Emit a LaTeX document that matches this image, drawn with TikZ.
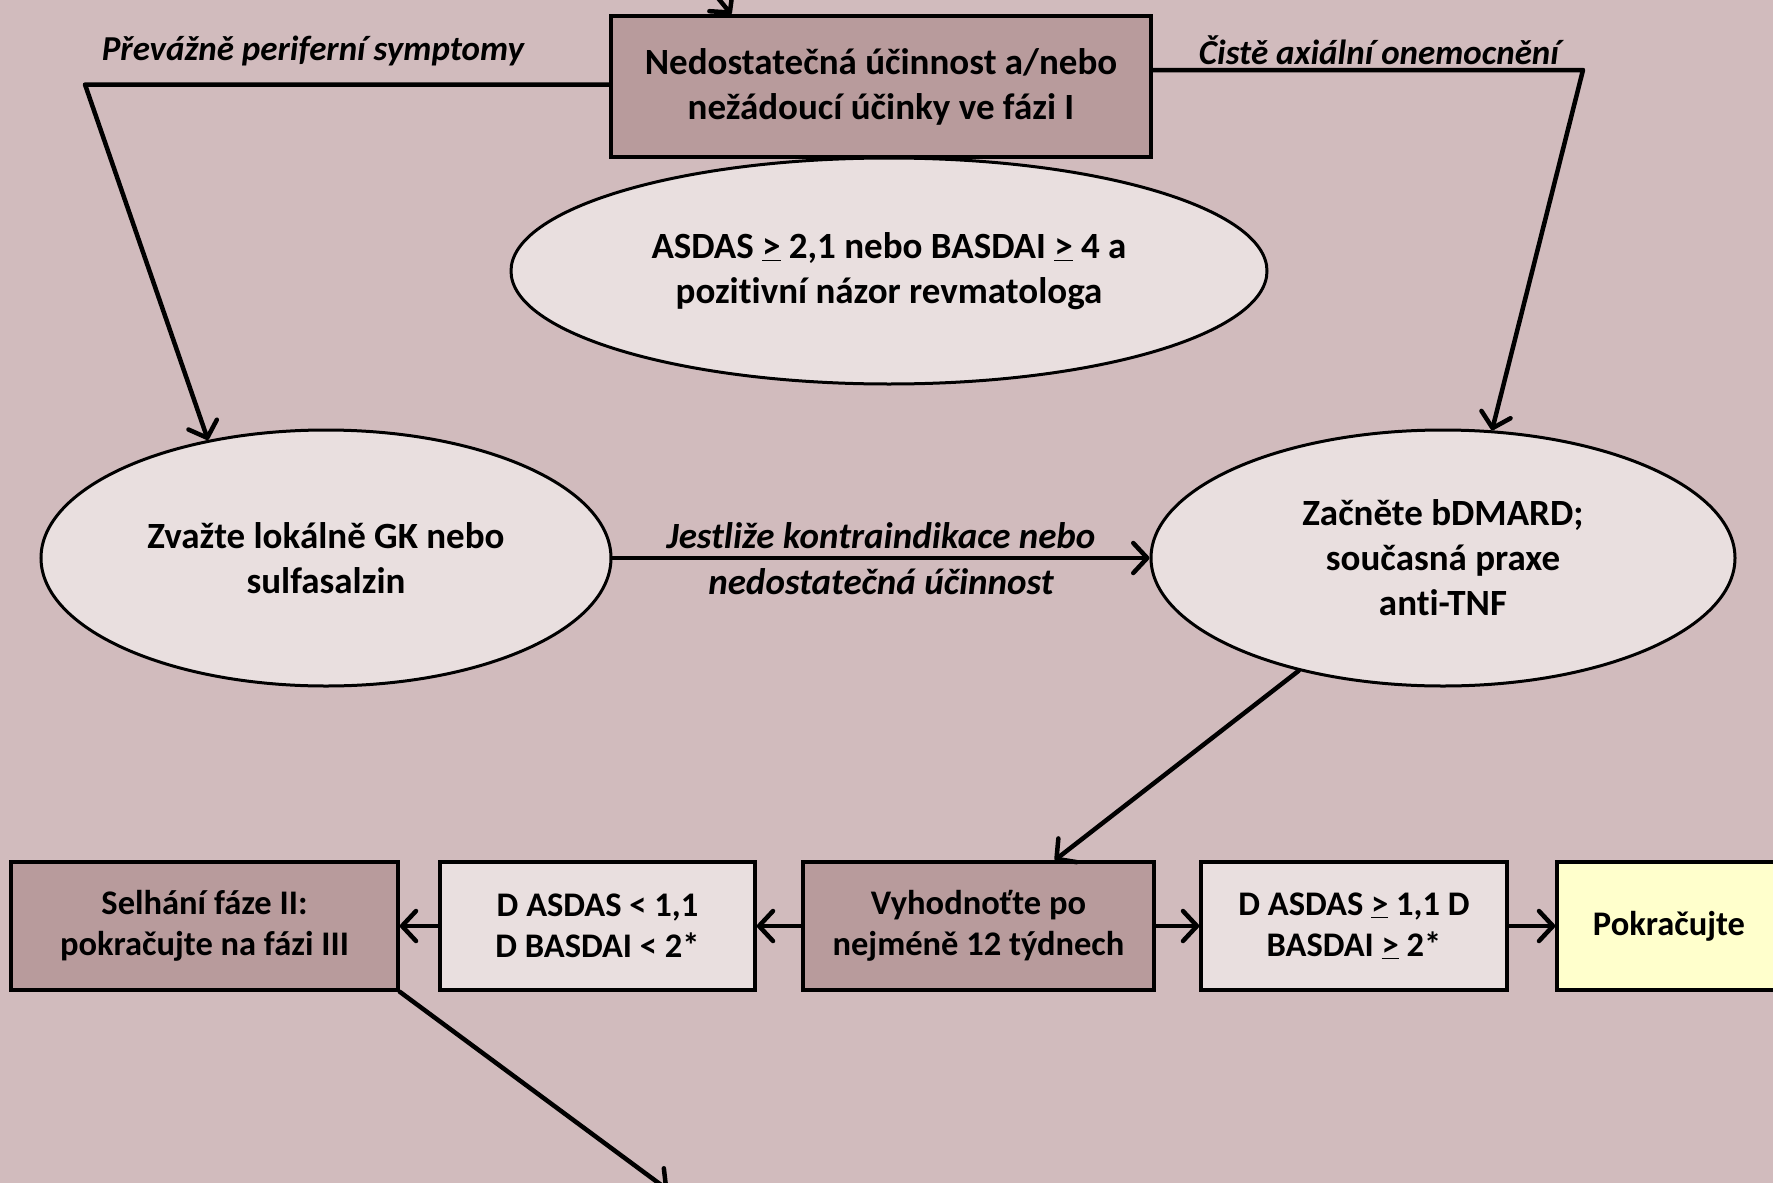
\documentclass[tikz,border=0pt]{standalone}
\usepackage{fontspec}
\setmainfont{Carlito}[Ligatures=NoCommon]
\usetikzlibrary{arrows.meta,shapes.geometric,calc}
\definecolor{bg}{HTML}{D1BBBD}
\definecolor{boxdark}{HTML}{B89B9C}
\definecolor{boxlight}{HTML}{E9DFDF}
\definecolor{boxyellow}{HTML}{FFFFCC}
\begin{document}
\begin{tikzpicture}[x=1pt,y=-1pt,
  font=\fontsize{37}{45}\selectfont\bfseries,
  box/.style={draw, rectangle, line width=3.5pt, align=center, inner sep=0pt},
  dark/.style={box, fill=boxdark},
  light/.style={box, fill=boxlight},
  rowbox/.style={minimum height=128pt, font=\fontsize{34.5}{41}\selectfont\bfseries},
  oval/.style={draw, ellipse, line width=3pt, fill=boxlight, align=center, inner sep=0pt},
  arr/.style={line width=4.5pt, line cap=round, line join=round,
    -{Straight Barb[length=14pt,width=30pt,line cap=round,line join=round]}},
  lbl/.style={font=\fontsize{35}{45}\selectfont\bfseries\itshape, inner sep=0pt},
  midlbl/.style={lbl, font=\fontsize{37}{45}\selectfont\bfseries\itshape}]
\useasboundingbox[fill=bg] (0,0) rectangle (1773,1183);

\node[dark, minimum width=540pt, minimum height=141pt] (top) at (881,86.5)
  {Nedostatečná účinnost a/nebo\\nežádoucí účinky ve fázi I};
\node[oval, minimum width=756pt, minimum height=226pt] (crit) at (889,271)
  {ASDAS \underline{>} 2,1 nebo BASDAI \underline{>} 4 a\\pozitivní názor revmatologa};
\node[oval, minimum width=570pt, minimum height=256pt] (lell) at (326,558)
  {Zvažte lokálně GK nebo\\sulfasalzin};
\node[oval, minimum width=584pt, minimum height=256pt] (rell) at (1443,558)
  {Začněte bDMARD;\\současná praxe\\anti-TNF};

\node[dark, rowbox, minimum width=387pt] (fail) at (204.5,926)
  {Selhání fáze II:\\pokračujte na fázi III};
\node[light, rowbox, minimum width=315pt] (lo) at (597.5,926)
  {D ASDAS < 1,1\\D BASDAI < 2*};
\node[dark, rowbox, minimum width=351pt] (eval) at (978.5,926)
  {Vyhodnoťte po\\nejméně 12 týdnech};
\node[light, rowbox, minimum width=306pt] (hi) at (1354,926)
  {D ASDAS \underline{>} 1,1 D\\BASDAI \underline{>} 2*};
\node[box, fill=boxyellow, rowbox, minimum width=224pt] (cont) at (1669,926)
  {Pokračujte};

\node[lbl] (lperi) at (313,51) {Převážně periferní symptomy};
\node[lbl] (laxi) at (1379,50) {Čistě axiální onemocnění};

\coordinate (lb) at (85,84.5);
\coordinate (rb) at (1583,70);
\coordinate (entry) at (695,-30);
\coordinate (exit) at (668,1190);

\draw[arr] (entry) -- ($(top.north west)+(122,0)$);
\draw[arr] (top.west |- lb) -- (lb) -- (lell.135.7);
\draw[arr] (top.east |- rb) -- (rb) -- (rell.69.5);
\draw[arr] (lell.east) -- (rell.west)
  node[midway, midlbl, yshift=22pt] (lj1) {Jestliže kontraindikace nebo}
  node[midway, midlbl, yshift=-24pt] (lj2) {nedostatečná účinnost};
\draw[arr] (rell.218) -- ($(eval.north west)!0.715!(eval.north east)$);
\draw[arr] (eval.west) -- (lo.east);
\draw[arr] (lo.west) -- (fail.east);
\draw[arr] (eval.east) -- (hi.west);
\draw[arr] (hi.east) -- (cont.west);
\draw[arr] (fail.south east) -- (exit);
\end{tikzpicture}
\end{document}
